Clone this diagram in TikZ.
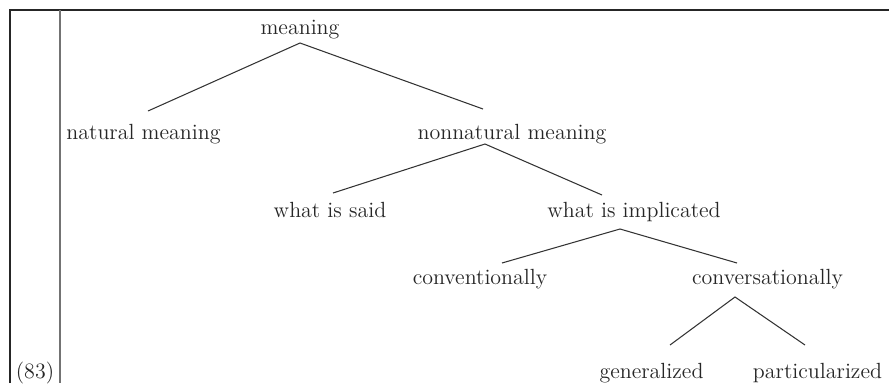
\documentclass[tikz,border=0pt]{standalone}
\usepackage{tikz}
\tikzstyle{word}=[anchor=base, inner sep=0pt, text=black!85, font=\fontsize{12.5}{15}\selectfont]
\tikzstyle{edge}=[draw, line width=.6pt, black!80]
\tikzstyle{frame}=[draw, line width=1.2pt, black!85]
\tikzstyle{divider}=[draw, line width=1pt, black!55]
\begin{document}
\begin{tikzpicture}[x=.02cm, y=-.02cm]
	\useasboundingbox (0,0) rectangle (889,383);

	% box round the example
	\draw[frame] (10,383) -- (10,10) -- (889,10);
	\draw[divider] (60,10) -- (60,383);
	\node[word] (num) at (35,378) {(83)};

	% the tree
	\node[word] (meaning) at (300,34) {meaning};
	\node[word] (natural) at (143.5,139) {natural meaning};
	\node[word] (nonnatural) at (512,139) {nonnatural meaning};
	\node[word] (said) at (330,217) {what is said};
	\node[word] (implicated) at (634,217) {what is implicated};
	\node[word] (conventional) at (480,284) {conventionally};
	\node[word] (conversational) at (767.5,284) {conversationally};
	\node[word] (generalized) at (651.5,378) {generalized};
	\node[word] (particularized) at (817.5,378) {particularized};

	% where the branches meet the words
	\coordinate (meaning-fork) at (300,43);
	\coordinate (natural-top) at (148,111);
	\coordinate (nonnatural-top) at (483,109);
	\coordinate (nonnatural-fork) at (485,144);
	\coordinate (said-top) at (333,193);
	\coordinate (implicated-top) at (602,195);
	\coordinate (implicated-fork) at (620,229);
	\coordinate (conventional-top) at (502,263);
	\coordinate (conversational-top) at (737,263);
	\coordinate (conversational-fork) at (735,297);
	\coordinate (generalized-top) at (670,345);
	\coordinate (particularized-top) at (805,345);

	\draw[edge] (natural-top) -- (meaning-fork) -- (nonnatural-top);
	\draw[edge] (said-top) -- (nonnatural-fork) -- (implicated-top);
	\draw[edge] (conventional-top) -- (implicated-fork) -- (conversational-top);
	\draw[edge] (generalized-top) -- (conversational-fork) -- (particularized-top);
\end{tikzpicture}
\end{document}
